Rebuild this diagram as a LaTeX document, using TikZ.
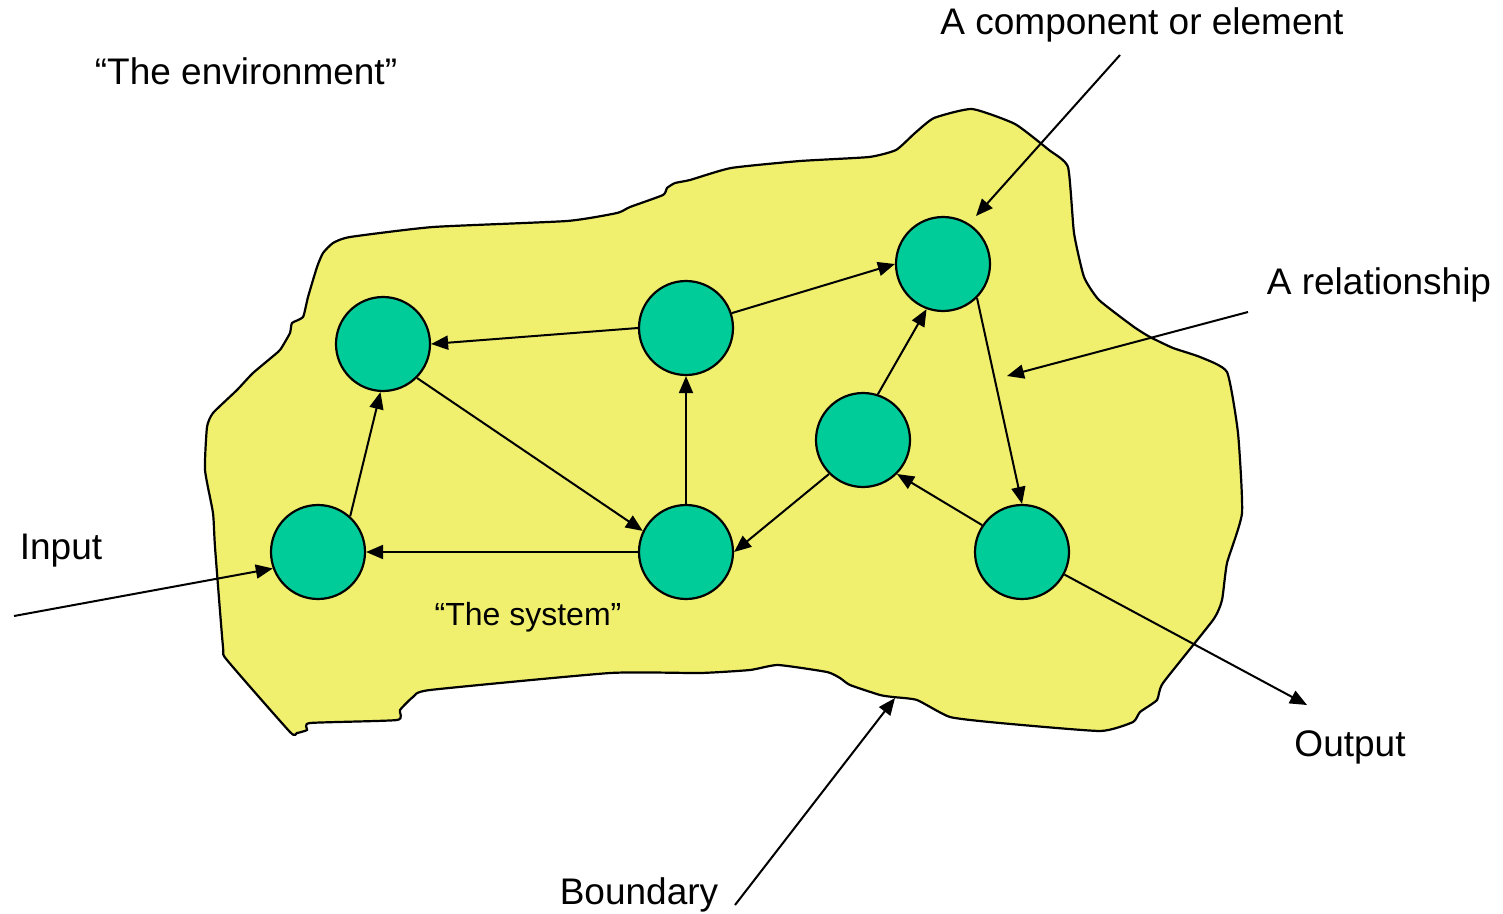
\documentclass[tikz,border=0pt]{standalone}
\usepackage{fontspec}
\setmainfont{Liberation Sans}
\usetikzlibrary{arrows.meta}
\definecolor{blobyellow}{RGB}{240,240,110}
\definecolor{nodegreen}{RGB}{0,204,153}
\tikzset{
  elem/.style={circle, draw=black, line width=2.2pt, fill=nodegreen, minimum size=94pt, inner sep=0pt},
  rel/.style={line width=2pt, -{Triangle[length=17pt,width=14pt]}},
  lbl/.style={font=\fontsize{37}{40}\selectfont, inner sep=0pt, anchor=center},
  boundary/.style={line width=2.2pt, draw=black, fill=blobyellow}
}
\begin{document}
\begin{tikzpicture}[x=1pt,y=-1pt]
\useasboundingbox (0,0) rectangle (1503,913);
\path[boundary] plot[smooth cycle, tension=0.3] coordinates {
(333,243) (350,237) (433,227) (567,221) (617,213) (630,207) (663,195) (667,188) (675,183) (690,180) (731,168) (800,161) (869,157) (896,150) (915,133) (934,118) (972,109) (1015,124) (1049,150) (1068,167) (1074,233) (1084,277) (1099,300) (1134,327) (1150,337) (1173,348) (1200,357) (1227,372) (1238,433) (1242,513) (1227,563) (1222,600) (1213,620) (1163,683) (1157,700) (1140,712) (1133,722) (1100,731) (1000,723) (950,717) (917,700) (893,697) (880,695) (850,685) (840,678) (827,672) (778,665) (750,670) (700,673) (610,673) (430,690) (413,697) (400,710) (397,720) (310,723) (307,730) (297,733) (290,732) (227,660) (223,647) (215,547) (213,513) (205,470) (207,427) (213,413) (237,390) (253,373) (278,352) (282,347) (290,333) (292,323) (303,317) (308,297) (317,267) (323,253)};

\node[elem] (A) at (383,344) {};
\node[elem] (B) at (686,328) {};
\node[elem] (C) at (943,264) {};
\node[elem] (D) at (863,440) {};
\node[elem] (E) at (318,552) {};
\node[elem] (F) at (686,552) {};
\node[elem] (G) at (1022,552) {};

\draw[rel] (B.west) -- (A.east);
\draw[rel] (B.18) -- (C.180);
\draw[rel] (A.-45) -- (F.154);
\draw[rel] (F) -- (B);
\draw[rel] (E.48) -- (A.-93);
\draw[rel] (F) -- (E);
\draw[rel] (D.72) -- (C.-110);
\draw[rel] (D.225) -- (F.east);
\draw[rel] (G.146) -- (D.-45);
\draw[rel] (C.-45) -- (G.north);

\coordinate (inS) at (14,616);
\coordinate (outE) at (1307,705);
\coordinate (bdS) at (735,905);
\coordinate (bdE) at (895,698);
\coordinate (cmS) at (1120,55);
\coordinate (cmE) at (976,216);
\coordinate (rlS) at (1248,312);
\coordinate (rlE) at (1007,376);

\draw[rel] (inS) -- (E.200);
\draw[rel] (G.-28) -- (outE);
\draw[rel] (bdS) -- (bdE);
\draw[rel] (cmS) -- (cmE);
\draw[rel] (rlS) -- (rlE);

\node[lbl] (env) at (246,71) {“The environment”};
\node[lbl] (comp) at (1142,25) {A component or element};
\node[lbl] (relt) at (1379,285) {A relationship};
\node[lbl] (inp) at (61,551) {Input};
\node[lbl, font=\fontsize{32}{36}\selectfont] (sys) at (528,617) {“The system”};
\node[lbl] (outp) at (1350,747) {Output};
\node[lbl] (bnd) at (639,895) {Boundary};
\end{tikzpicture}
\end{document}
